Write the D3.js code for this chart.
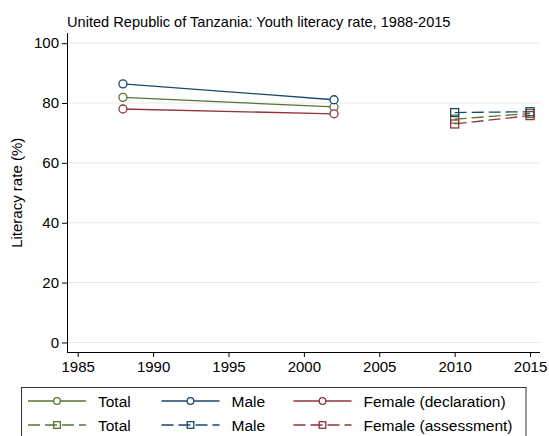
<!DOCTYPE html>
<html><head><meta charset="utf-8">
<script src="https://cdn.jsdelivr.net/npm/d3@7"></script>
<style>body{margin:0;background:#fff} text{font-family:"Liberation Sans",Arial,sans-serif;fill:#000}</style>
</head><body><svg id="c" width="549" height="436"></svg>
<script>
const yearsDeclaration = [1988, 2002];
const totalDeclaration = [81.9, 78.7];
const maleDeclaration = [86.4, 81.1];
const femaleDeclaration = [78.0, 76.4];
const yearsAssessment = [2010, 2015];
const totalAssessment = [74.6, 76.5];
const maleAssessment = [76.8, 77.1];
const femaleAssessment = [73.0, 75.8];
const xTicks = [1985, 1990, 1995, 2000, 2005, 2010, 2015];
const yTicks = [0, 20, 40, 60, 80, 100];
const legendLabels = ["Total", "Male", "Female (declaration)", "Total", "Male", "Female (assessment)"];
const titleText = "United Republic of Tanzania: Youth literacy rate, 1988-2015";
const yTitle = "Literacy rate (%)";

const colors = {total: "#55752f", male: "#1a476f", female: "#90353b"};
const svg = d3.select("#c");
const L = 67, R = 540, T = 33, B = 352;
const x = d3.scaleLinear().domain([1984.29, 2015.66]).range([L, R]);
const y = d3.scaleLinear().domain([-3.2, 103.4]).range([B, T]);

// grid
svg.append("g").selectAll("line").data(yTicks).join("line")
  .attr("x1", L).attr("x2", R).attr("y1", d => y(d)).attr("y2", d => y(d))
  .attr("stroke", "#eaeaea").attr("stroke-width", 1);

const fs = 15;
const yAxis = svg.append("g").attr("transform", `translate(${L},0)`)
  .call(d3.axisLeft(y).tickValues(yTicks).tickSize(5).tickPadding(3));
yAxis.select(".domain").attr("d", `M0.5,${T}V${B}`).attr("stroke", "#000");
yAxis.selectAll("text").style("font-size", fs + "px").style("font-family", '"Liberation Sans",Arial,sans-serif');
const xAxis = svg.append("g").attr("transform", `translate(0,${B})`)
  .call(d3.axisBottom(x).tickValues(xTicks).tickFormat(d3.format("d")).tickSize(5).tickPadding(4));
xAxis.select(".domain").attr("d", `M${L},0.5H${R}`).attr("stroke", "#000");
xAxis.selectAll("text").style("font-size", fs + "px").style("font-family", '"Liberation Sans",Arial,sans-serif');

svg.append("text").attr("x", L).attr("y", 27).style("font-size", "14.6px").text(titleText);
svg.append("text").attr("transform", `translate(22,${(y(0)+y(100))/2}) rotate(-90)`)
  .attr("text-anchor", "middle").style("font-size", fs + "px").text(yTitle);

const line = d3.line().x(d => x(d[0])).y(d => y(d[1]));
const series = [
  {years: yearsDeclaration, vals: totalDeclaration, c: colors.total, dash: null, m: "circle"},
  {years: yearsDeclaration, vals: maleDeclaration, c: colors.male, dash: null, m: "circle"},
  {years: yearsDeclaration, vals: femaleDeclaration, c: colors.female, dash: null, m: "circle"},
  {years: yearsAssessment, vals: totalAssessment, c: colors.total, dash: "12,5", m: "square"},
  {years: yearsAssessment, vals: maleAssessment, c: colors.male, dash: "12,5", m: "square"},
  {years: yearsAssessment, vals: femaleAssessment, c: colors.female, dash: "12,5", m: "square"}
];
function marker(g, type, cx, cy, c, s) {
  if (type === "circle") g.append("circle").attr("cx", cx).attr("cy", cy).attr("r", s).attr("fill", "#fff").attr("stroke", c).attr("stroke-width", 1.3);
  else g.append("rect").attr("x", cx - s).attr("y", cy - s).attr("width", 2*s).attr("height", 2*s).attr("fill", "none").attr("stroke", c).attr("stroke-width", 1.3);
}
const plot = svg.append("g");
series.forEach(s => {
  const pts = s.years.map((yr, i) => [yr, s.vals[i]]);
  plot.append("path").attr("d", line(pts)).attr("fill", "none").attr("stroke", s.c)
    .attr("stroke-width", 1.3).attr("stroke-dasharray", s.dash);
});
series.forEach(s => {
  s.years.forEach((yr, i) => marker(plot, s.m, x(yr), y(s.vals[i]), s.c, 4));
});

// legend
const lg = svg.append("g");
lg.append("rect").attr("x", 21.5).attr("y", 387.5).attr("width", 504.5).attr("height", 60)
  .attr("fill", "#fff").attr("stroke", "#333").attr("stroke-width", 1);
const colX = [28, 161.5, 293.5];
const rowY = [401, 425];
series.forEach((s, i) => {
  const cx = colX[i % 3], cy = rowY[Math.floor(i / 3)];
  lg.append("line").attr("x1", cx).attr("x2", cx + 58).attr("y1", cy).attr("y2", cy)
    .attr("stroke", s.c).attr("stroke-width", 1.3).attr("stroke-dasharray", s.dash);
  marker(lg, s.m, cx + 29, cy, s.c, 3.3);
  lg.append("text").attr("x", cx + 70).attr("y", cy + 5.5).style("font-size", "15.5px").text(legendLabels[i]);
});
</script></body></html>
